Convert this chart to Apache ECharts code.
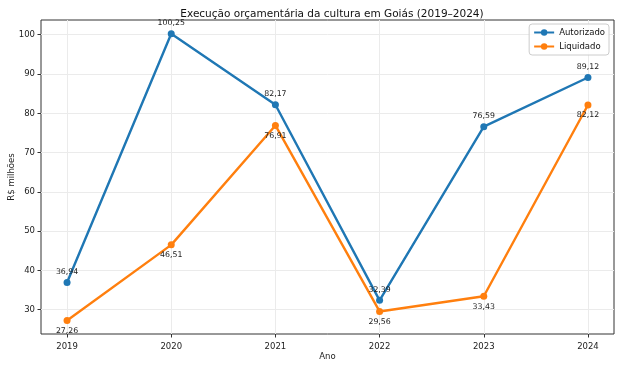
<!DOCTYPE html>
<html><head><meta charset="utf-8">
<script src="https://cdn.jsdelivr.net/npm/echarts@6/dist/echarts.min.js"></script>
<style>html,body{margin:0;padding:0;background:#fff}#c{width:620px;height:369px}</style>
</head><body><div id="c"></div>
<script>
const years = [2019, 2020, 2021, 2022, 2023, 2024];
const autorizado = [36.94, 100.25, 82.17, 32.39, 76.59, 89.12];
const liquidado = [27.26, 46.51, 76.91, 29.56, 33.43, 82.12];
const yTicks = [30, 40, 50, 60, 70, 80, 90, 100];

const fmt = v => v.toFixed(2).replace('.', ',');
const font = 'DejaVu Sans';
const chart = echarts.init(document.getElementById('c'));
chart.setOption({
  animation: false,
  title: {text: 'Execução orçamentária da cultura em Goiás (2019–2024)', left: 327, top: 4, textAlign: 'center',
    textStyle: {fontFamily: font, fontSize: 10.5, fontWeight: 'normal', color: '#111'}},
  grid: {left: 41, right: 6, top: 20, bottom: 35, show: true, borderColor: '#333', borderWidth: 1,
    containLabel: false, outerBoundsMode: 'none'},
  legend: {right: 11, top: 24, orient: 'vertical', itemWidth: 20, itemHeight: 8, itemGap: 5,
    backgroundColor: 'rgba(255,255,255,0.85)', borderColor: '#ccc', borderWidth: 1, borderRadius: 3, padding: [4, 4, 4, 4],
    textStyle: {fontFamily: font, fontSize: 8.5, color: '#111'}},
  xAxis: {type: 'value', min: 2018.75, max: 2024.25,
    name: 'Ano', nameLocation: 'middle', nameGap: 18.5, nameMoveOverlap: false,
    nameTextStyle: {fontFamily: font, fontSize: 8.5, color: '#222'},
    axisLine: {show: false},
    axisTick: {show: true, length: 3.5, lineStyle: {color: '#333'}, customValues: years},
    axisLabel: {fontFamily: font, fontSize: 8.5, color: '#222', margin: 8, customValues: years, formatter: v => String(v)},
    splitLine: {show: false}},
  yAxis: {type: 'value', min: 23.82, max: 103.75,
    name: 'R$ milhões', nameLocation: 'middle', nameGap: 25, nameMoveOverlap: false,
    nameTextStyle: {fontFamily: font, fontSize: 8.5, color: '#222'},
    axisLine: {show: false},
    axisTick: {show: true, length: 3.5, lineStyle: {color: '#333'}, customValues: yTicks},
    axisLabel: {fontFamily: font, fontSize: 8.5, color: '#222', margin: 6, customValues: yTicks, formatter: v => String(v)},
    splitLine: {show: false}},
  series: [
    {name: 'Autorizado', type: 'line', data: years.map((y, i) => [y, autorizado[i]]), z: 3,
      color: '#1f77b4', lineStyle: {width: 2.4}, symbol: 'circle', symbolSize: 7,
      label: {show: true, position: 'top', distance: 3, formatter: p => fmt(p.value[1]), fontFamily: font, fontSize: 7.8, color: '#222'},
      markLine: {silent: true, symbol: 'none', label: {show: false}, z: 0,
        lineStyle: {color: '#ebebeb', width: 1, type: 'solid'},
        data: years.map(y => ({xAxis: y})).concat(yTicks.map(v => ({yAxis: v})))}},
    {name: 'Liquidado', type: 'line', data: years.map((y, i) => [y, liquidado[i]]), z: 3,
      color: '#ff7f0e', lineStyle: {width: 2.4}, symbol: 'circle', symbolSize: 7,
      label: {show: true, position: 'bottom', distance: 3, formatter: p => fmt(p.value[1]), fontFamily: font, fontSize: 7.8, color: '#222'}}
  ]
});
</script></body></html>
